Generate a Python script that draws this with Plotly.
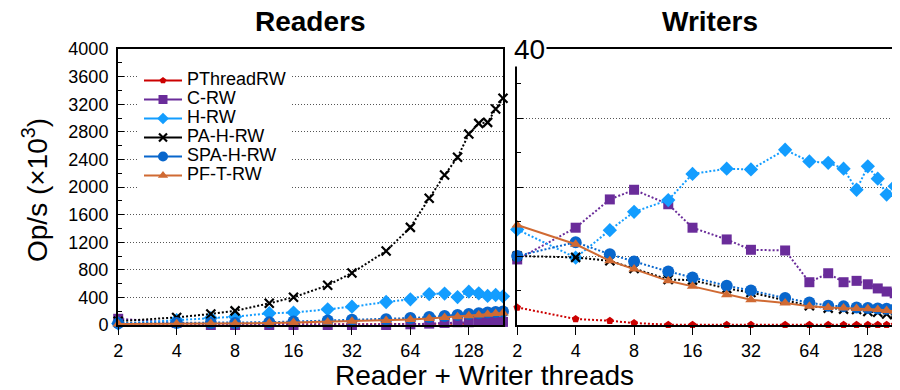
import math
import plotly.graph_objects as go

# ---------------- data ----------------
threads = [2, 4, 6, 8, 12, 16, 24, 32, 48, 64, 80, 96, 112, 128, 144, 160, 176, 192]
tick_vals = [2, 4, 8, 16, 32, 64, 128]
tick_text = ["2", "4", "8", "16", "32", "64", "128"]

series_names = ["PThreadRW", "C-RW", "H-RW", "PA-H-RW", "SPA-H-RW", "PF-T-RW"]

# Readers panel (Op/s x10^3)
readers_pthread = [20, 15, 12, 10, 10, 10, 10, 10, 12, 15, 15, 18, 20, 20, 20, 22, 22, 22]
readers_crw = [90, 30, 0, 0, 0, 0, 0, 0, 0, 10, 20, 30, 40, 40, 45, 45, 45, 45]
readers_hrw = [20, 70, 100, 120, 170, 180, 227, 265, 333, 372, 448, 455, 405, 483, 459, 422, 435, 415]
readers_pahrw = [55, 110, 160, 205, 314, 401, 575, 755, 1072, 1415, 1836, 2173, 2430, 2767, 2922, 2937, 3130, 3285]
readers_spahrw = [25, 30, 30, 30, 40, 50, 65, 75, 85, 100, 115, 130, 145, 160, 170, 180, 190, 195]
readers_pftrw = [15, 18, 20, 22, 28, 35, 45, 55, 65, 78, 95, 110, 120, 135, 145, 155, 165, 175]

# Writers panel
writers_pthread = [2.55, 0.87, 0.62, 0.28, 0.05, 0.05, 0.05, 0.05, 0.05, 0.05, 0.05, 0.05, 0.05, 0.05, 0.05, 0.05, 0.05, 0.05]
writers_crw = [9.5, 14.1, 18.2, 19.6, 17.5, 14.1, 12.4, 10.9, 10.8, 6.2, 7.5, 6.2, 6.4, 5.9, 5.3, 4.85, 4.6, 4.2]
writers_hrw = [13.85, 9.76, 13.75, 16.4, 18.1, 21.9, 22.65, 22.55, 25.4, 23.7, 23.5, 22.65, 19.6, 23.0, 21.2, 18.9, 20.1, 17.7]
writers_pahrw = [10.0, 9.8, 9.3, 8.2, 6.6, 6.5, 5.3, 4.7, 3.65, 2.8, 2.45, 2.3, 2.25, 1.95, 1.85, 1.6, 1.5, 1.35]
writers_spahrw = [10.0, 12.0, 10.25, 9.2, 7.75, 6.9, 5.7, 5.0, 3.9, 3.25, 2.8, 2.7, 2.55, 2.45, 2.4, 2.35, 2.25, 2.0]
writers_pftrw = [14.5, 11.7, 9.3, 8.1, 6.4, 5.6, 4.4, 3.65, 3.2, 2.7, 2.55, 2.45, 2.4, 2.35, 2.25, 2.1, 2.0, 1.75]

readers = [readers_pthread, readers_crw, readers_hrw, readers_pahrw, readers_spahrw, readers_pftrw]
writers = [writers_pthread, writers_crw, writers_hrw, writers_pahrw, writers_spahrw, writers_pftrw]

# ---------------- styles ----------------
colors = ["#cc0000", "#6a2c9a", "#139dff", "#000000", "#0866cc", "#d06a33"]
symbols = ["pentagon", "square", "diamond", "x-thin", "circle", "triangle-up"]
sizes = [8, 10, 11, 9, 12, 10]
legend_sizes = [7, 9, 9, 8, 10, 9]
dashes = ["2px,2px", "2px,2px", "2px,2px", "2px,2px", "2px,2px", "solid"]

FONT = "Liberation Sans, Arial, Helvetica, sans-serif"
OFF = 8  # page body margin offset
W, H = 900, 390
L = 118 - OFF
T = 49 - OFF
PH = 276
PW = 782
R = W - L - PW
B = H - T - PH

fig = go.Figure()


def marker_for(i, size):
    if symbols[i] == "x-thin":
        return dict(symbol="x-thin", size=size, color=colors[i],
                    line=dict(color=colors[i], width=2.2))
    return dict(symbol=symbols[i], size=size, color=colors[i], line=dict(width=0))


for panel, (xa, ya, data) in enumerate([("x", "y", readers), ("x2", "y2", writers)]):
    for i, name in enumerate(series_names):
        fig.add_trace(go.Scatter(
            x=threads, y=data[i], xaxis=xa, yaxis=ya,
            mode="lines+markers", name=name, showlegend=False,
            line=dict(color=colors[i], width=2, dash=dashes[i]),
            marker=marker_for(i, sizes[i]), cliponaxis=False, hoverinfo="skip"))

# legend entries (solid line samples, as in the reference key)
for i, name in enumerate(series_names):
    fig.add_trace(go.Scatter(
        x=[None], y=[None], xaxis="x", yaxis="y", mode="lines+markers",
        name='<span style="font-size:18px">' + name + "</span>",
        line=dict(color=colors[i], width=2), marker=marker_for(i, legend_sizes[i])))

log2 = math.log10(2)
x_start = math.log10(1.995)
left_w = 385
px_per_doubling = left_w / (math.log2(192) - math.log2(1.995))
gap_px = 14
right_start = left_w + gap_px
right_doublings = (PW - right_start) / px_per_doubling

axis_common = dict(showline=True, linecolor="black", linewidth=2, zeroline=False)

fig.update_layout(
    width=W, height=H,
    margin=dict(l=L, r=R, t=T, b=B),
    paper_bgcolor="white", plot_bgcolor="white",
    font=dict(family=FONT, size=18, color="black"),
    xaxis=dict(domain=[0, left_w / PW], type="log",
               range=[x_start, math.log10(192)], anchor="y",
               tickvals=tick_vals, ticktext=tick_text,
               ticks="outside", ticklen=8, tickwidth=1, tickcolor="black",
               showgrid=False, mirror=True, tickfont=dict(size=18), **axis_common),
    yaxis=dict(domain=[0, 1], range=[0, 4000], anchor="x",
               tick0=0, dtick=400, ticks="inside", ticklen=6, tickwidth=1,
               tickcolor="black",
               minor=dict(ticks="inside", dtick=200, ticklen=4, tickcolor="black",
                          showgrid=False),
               showgrid=True, gridcolor="#555", griddash="1px,2px", gridwidth=1,
               mirror=True, tickfont=dict(size=18), ticklabelstandoff=4,
               **axis_common),
    xaxis2=dict(domain=[right_start / PW, 1], type="log",
                range=[x_start, x_start + log2 * right_doublings], anchor="y2",
                tickvals=tick_vals, ticktext=tick_text,
                ticks="outside", ticklen=8, tickwidth=1, tickcolor="black",
                showgrid=False, mirror=True, tickfont=dict(size=18), **axis_common),
    yaxis2=dict(domain=[0, 1], range=[0, 40], anchor="x2",
                tick0=0, dtick=10, ticks="inside", ticklen=6, tickwidth=1,
                tickcolor="black",
                minor=dict(ticks="inside", dtick=5, ticklen=4, tickcolor="black",
                           showgrid=False),
                showgrid=True, gridcolor="#555", griddash="1px,2px", gridwidth=1,
                showticklabels=False, **axis_common),
    legend=dict(x=(139 - 118) / PW, xanchor="left", y=1 - (66 - 49) / PH, yanchor="top",
                bgcolor="white", borderwidth=0, font=dict(size=12),
                traceorder="normal", itemwidth=38, tracegroupgap=0),
    showlegend=True,
)


# positions given in reference-page pixels
def px_x(x):
    return (x - 118) / PW


def px_y(y):
    return (49 + PH - y) / PH


annotations = [
    dict(text="<b>Readers</b>", x=px_x(310), y=px_y(21), font=dict(size=28)),
    dict(text="<b>Writers</b>", x=px_x(710), y=px_y(21), font=dict(size=28)),
    dict(text="Reader + Writer threads", x=px_x(484), y=px_y(375), font=dict(size=28)),
    dict(text="Op/s (×10<sup>3</sup>)", x=px_x(35), y=px_y(190), font=dict(size=28),
         textangle=-90),
    dict(text="40", x=px_x(529), y=px_y(49), font=dict(size=28), bgcolor="white",
         borderpad=1),
]
for a in annotations:
    a.update(xref="paper", yref="paper", showarrow=False, xanchor="center", yanchor="middle")
fig.update_layout(annotations=annotations)

fig.write_html("out.html")
